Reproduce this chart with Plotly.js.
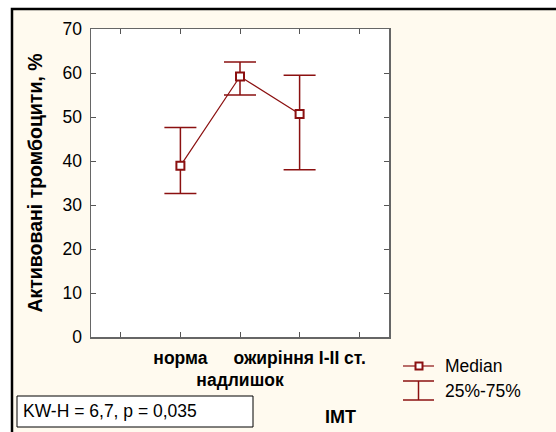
<!DOCTYPE html>
<html><head><meta charset="utf-8">
<script src="https://cdn.plot.ly/plotly-3.0.1.min.js"></script>
<style>html,body{margin:0;padding:0;background:#fff}</style>
</head><body><div id="chart" style="width:556px;height:432px"></div>
<script>
// Data
const categories = ['норма', 'надлишок', 'ожиріння I-II ст.'];
const median = [38.9, 59.2, 50.7];
const q25 = [32.6, 55.0, 38.0];
const q75 = [47.6, 62.5, 59.5];
const tickLabels = ['', 'норма', '<br>надлишок', 'ожиріння I-II ст.', ''];
const yTicks = [0, 10, 20, 30, 40, 50, 60, 70];
const statText = 'KW-H = 6,7, p = 0,035';

const red = '#8B1010';
const W = 556, H = 432, L = 91, R = 389, T = 29, B = 337;
const px = x => (x - L) / (R - L);
const py = y => (B - y) / (B - T);

const xIdx = categories.map((c, i) => i);
const trace = {
  x: xIdx, y: median, type: 'scatter', mode: 'lines+markers',
  line: {color: red, width: 1.2},
  marker: {symbol: 'square', size: 8, color: '#fff', line: {color: red, width: 2}},
  error_y: {type: 'data', symmetric: false,
    array: median.map((m, i) => q75[i] - m),
    arrayminus: median.map((m, i) => m - q25[i]),
    color: red, thickness: 1.5, width: 16},
  hoverinfo: 'none', showlegend: false
};

const font = {family: 'Liberation Sans, Arial, sans-serif', color: '#000'};
const fs = 17.5;
const layout = {
  width: W, height: H,
  margin: {l: L, r: W - R, t: T, b: H - B},
  paper_bgcolor: '#fff', plot_bgcolor: '#fff',
  showlegend: false,
  font: Object.assign({size: fs}, font),
  xaxis: {
    range: [-1.5, 3.5], tickvals: [-1, 0, 1, 2, 3], ticktext: tickLabels, tickangle: 0,
    ticks: 'inside', ticklen: 5, tickcolor: '#555', mirror: 'ticks', ticklabelstandoff: 4,
    showline: true, linecolor: '#666', linewidth: 1.5, showgrid: false, zeroline: false,
    tickfont: Object.assign({size: fs, weight: 'bold'}, font)
  },
  yaxis: {
    range: [0, 70], tickvals: yTicks,
    ticks: 'inside', ticklen: 5, tickcolor: '#555', mirror: 'ticks', ticklabelstandoff: 4,
    showline: true, linecolor: '#666', linewidth: 1.5, showgrid: false, zeroline: false,
    tickfont: Object.assign({size: fs}, font),
    title: {text: 'Активовані тромбоцити, %', font: Object.assign({size: 19.5, weight: 'bold'}, font), standoff: 14}
  },
  shapes: [
    {type: 'rect', xref: 'paper', yref: 'paper', layer: 'below',
      x0: px(12), x1: px(600), y0: py(9), y1: py(470),
      fillcolor: '#FFFAEF', line: {color: '#000', width: 2.5}},
    {type: 'rect', xref: 'paper', yref: 'paper', layer: 'below',
      x0: 0, x1: 1, y0: 0, y1: 1, fillcolor: '#fff', line: {width: 0}},
    {type: 'rect', xref: 'paper', yref: 'paper',
      x0: px(17), x1: px(253), y0: py(396), y1: py(427),
      fillcolor: '#fff', line: {color: '#000', width: 1}},
    {type: 'line', xref: 'paper', yref: 'paper', x0: px(403), x1: px(434), y0: py(366), y1: py(366), line: {color: red, width: 1.2}},
    {type: 'rect', xref: 'paper', yref: 'paper', x0: px(415.5), x1: px(422.5), y0: py(362.5), y1: py(369.5), fillcolor: '#fff', line: {color: red, width: 2}},
    {type: 'line', xref: 'paper', yref: 'paper', x0: px(418.5), x1: px(418.5), y0: py(381), y1: py(400), line: {color: red, width: 1.5}},
    {type: 'line', xref: 'paper', yref: 'paper', x0: px(403), x1: px(434), y0: py(381), y1: py(381), line: {color: red, width: 1.5}},
    {type: 'line', xref: 'paper', yref: 'paper', x0: px(403), x1: px(434), y0: py(400), y1: py(400), line: {color: red, width: 1.5}}
  ],
  annotations: [
    {xref: 'paper', yref: 'paper', x: px(21), y: py(411), xanchor: 'left', yanchor: 'middle', showarrow: false,
      text: statText, font: Object.assign({size: fs}, font)},
    {xref: 'paper', yref: 'paper', x: px(340), y: py(417), xanchor: 'center', yanchor: 'middle', showarrow: false,
      text: '<b>IMT</b>', font: Object.assign({size: 18}, font)},
    {xref: 'paper', yref: 'paper', x: px(443), y: py(366), xanchor: 'left', yanchor: 'middle', showarrow: false,
      text: 'Median', font: Object.assign({size: fs}, font)},
    {xref: 'paper', yref: 'paper', x: px(443), y: py(391), xanchor: 'left', yanchor: 'middle', showarrow: false,
      text: '25%-75%', font: Object.assign({size: fs}, font)}
  ]
};

Plotly.newPlot('chart', [trace], layout, {displayModeBar: false, staticPlot: true});
</script></body></html>
